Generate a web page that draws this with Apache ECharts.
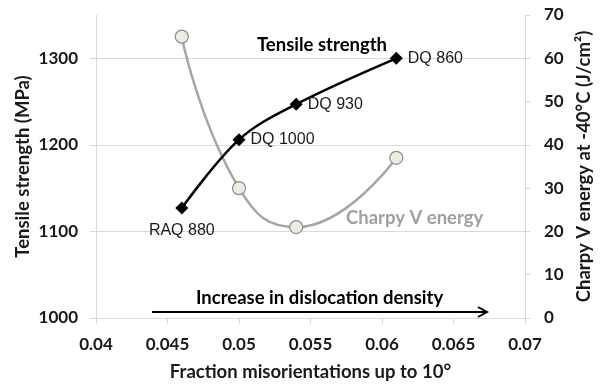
<!DOCTYPE html>
<html><head><meta charset="utf-8">
<script src="https://cdn.jsdelivr.net/npm/echarts@6/dist/echarts.min.js"></script>
<style>html,body{margin:0;padding:0;background:#fff}#c{width:602px;height:387px}</style>
</head><body><div id="c"></div>
<script>
const fraction = [0.046, 0.05, 0.054, 0.061];
const tensile = [1127, 1206, 1247, 1300];
const charpy = [65, 30, 21, 37];
const steelNames = ['RAQ 880', 'DQ 1000', 'DQ 930', 'DQ 860'];
const xTitle = 'Fraction misorientations up to 10°';
const yLeftTitle = 'Tensile strength (MPa)';
const yRightTitle = 'Charpy V energy at -40°C (J/cm²)';

const F = 'Lato, "Open Sans", sans-serif';
const grayAxis = '#d9d9d9';
const chart = echarts.init(document.getElementById('c'), null, {renderer: 'canvas'});
const tickFont = {fontFamily: F, fontWeight: 'bold', fontSize: 17, color: '#1a1a1a'};
const titleFont = {fontFamily: F, fontWeight: 'bold', fontSize: 18.5, color: '#1a1a1a'};

chart.setOption({
  animation: false,
  grid: {left: 96, right: 72, top: 15, bottom: 67},
  xAxis: {
    type: 'value', min: 0.04, max: 0.07, interval: 0.005,
    name: xTitle, nameLocation: 'middle', nameGap: 45, nameMoveOverlap: false,
    nameTextStyle: titleFont,
    axisLine: {show: true, lineStyle: {color: grayAxis, width: 1}},
    axisTick: {show: true, length: 6, lineStyle: {color: grayAxis}},
    axisLabel: Object.assign({margin: 18, formatter: v => String(+v.toFixed(3))}, tickFont),
    splitLine: {show: false}
  },
  yAxis: [{
    type: 'value', min: 1000, max: 1350, interval: 100, position: 'left',
    name: yLeftTitle, nameLocation: 'middle', nameGap: 63, nameMoveOverlap: false,
    nameTextStyle: titleFont,
    axisLine: {show: true, lineStyle: {color: grayAxis}},
    axisTick: {show: true, length: 6, lineStyle: {color: grayAxis}},
    axisLabel: Object.assign({margin: 18, showMaxLabel: false, formatter: v => String(v)}, tickFont),
    splitLine: {show: true, showMaxLine: false, lineStyle: {color: grayAxis}}
  }, {
    type: 'value', min: 0, max: 70, interval: 10, position: 'right',
    name: yRightTitle, nameLocation: 'middle', nameGap: 50, nameMoveOverlap: false,
    nameTextStyle: titleFont,
    axisLine: {show: true, lineStyle: {color: grayAxis}},
    axisTick: {show: true, length: 5, lineStyle: {color: grayAxis}},
    axisLabel: Object.assign({margin: 19}, tickFont),
    splitLine: {show: false}
  }],
  series: [{
    name: 'Tensile strength', type: 'line', yAxisIndex: 0, smooth: 0.35,
    data: fraction.map((x, i) => ({
      value: [x, tensile[i]],
      label: i === 0 ? {position: 'bottom', distance: 8} : {position: 'right', distance: 5}
    })),
    symbol: 'diamond', symbolSize: 13,
    itemStyle: {color: '#000'},
    lineStyle: {color: '#000', width: 2.5},
    label: {show: true, fontFamily: '"Liberation Sans", Arial, sans-serif', fontSize: 16, color: '#1a1a1a',
      formatter: p => steelNames[p.dataIndex]},
    z: 3
  }, {
    name: 'Charpy V energy', type: 'line', yAxisIndex: 1, smooth: 0.5,
    data: fraction.map((x, i) => [x, charpy[i]]),
    symbol: 'circle', symbolSize: 13,
    itemStyle: {color: '#eeece1', borderColor: '#8c8c8c', borderWidth: 1.2},
    lineStyle: {color: '#a6a6a6', width: 2.5},
    z: 2
  }],
  graphic: [
    {type: 'text', left: 257, top: 36, style: {text: 'Tensile strength', font: 'bold 18.5px ' + F, fill: '#000'}},
    {type: 'text', left: 346, top: 209, style: {text: 'Charpy V energy', font: 'bold 18.5px ' + F, fill: '#a0a0a0'}},
    {type: 'text', left: 196, top: 289, style: {text: 'Increase in dislocation density', font: 'bold 18.5px ' + F, fill: '#000'}},
    {type: 'line', shape: {x1: 152, y1: 312, x2: 486, y2: 312}, style: {stroke: '#000', lineWidth: 2}},
    {type: 'polyline', shape: {points: [[478, 307], [487, 312], [478, 317]]}, style: {stroke: '#000', lineWidth: 2, fill: null}}
  ]
});
</script></body></html>
